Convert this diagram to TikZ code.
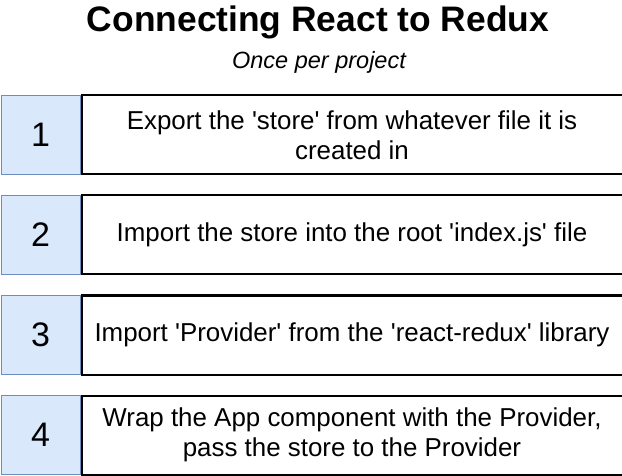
\documentclass[tikz,border=0pt]{standalone}
\usepackage{fontspec}
\setmainfont{Liberation Sans}
\usetikzlibrary{positioning}
\definecolor{numline}{HTML}{6C8EBF}
\definecolor{numfill}{HTML}{DAE8FC}
\newcommand{\sq}{\textquotesingle}
\begin{document}
\begin{tikzpicture}[x=1pt,y=-1pt,
  num node/.style={rectangle,draw=numline,fill=numfill,line width=1pt,
    minimum width=79pt,minimum height=79pt,inner sep=0pt,
    font=\fontsize{34}{38}\selectfont},
  step node/.style={rectangle,draw=black,line width=2pt,anchor=west,
    minimum width=541pt,minimum height=79pt,inner sep=0pt,align=center,
    font=\fontsize{25.9}{30}\selectfont}]

  \useasboundingbox (0,0) rectangle (622,476);

  \node[font=\fontsize{35.4}{40}\selectfont\bfseries] (title) at (318,22) {Connecting React to Redux};
  \node[font=\fontsize{23.5}{27}\selectfont\itshape] (sub) at (319,62) {Once per project};

  \node[num node] (n1) at (40.5,135) {1};
  \node[num node] (n2) at (40.5,235) {2};
  \node[num node] (n3) at (40.5,335) {3};
  \node[num node] (n4) at (40.5,435) {4};

  \node[step node] (s1) at (n1.east) {Export the \sq store\sq{} from whatever file it is\\created in};
  \node[step node] (s2) at (n2.east) {Import the store into the root \sq index.js\sq{} file};
  \node[step node] (s3) at (n3.east) {Import \sq Provider\sq{} from the \sq react-redux\sq{} library};
  \node[step node] (s4) at (n4.east) {Wrap the App component with the Provider,\\pass the store to the Provider};
\end{tikzpicture}
\end{document}
